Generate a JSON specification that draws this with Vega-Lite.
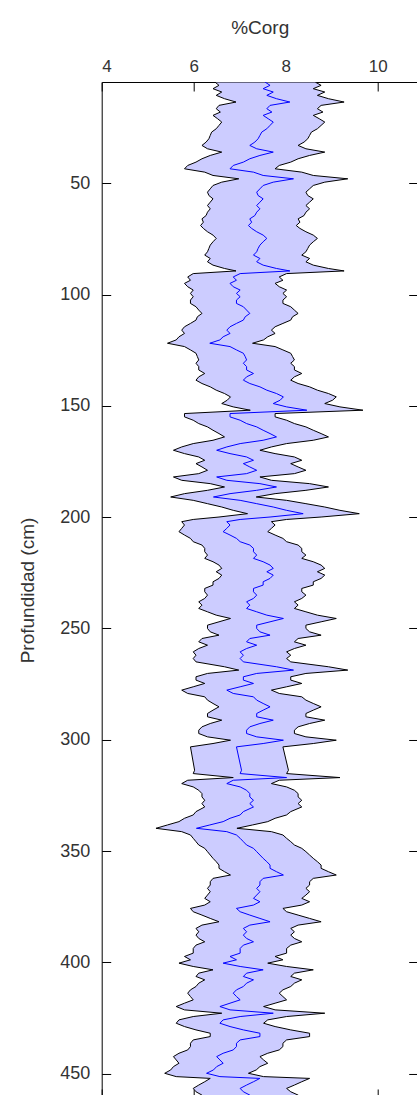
{
"$schema":"https://vega.github.io/schema/vega-lite/v6.json",
"width":316,"height":1016,
"autosize":{"type":"none"},
"padding":{"left":101.7,"top":82,"right":0,"bottom":0},
"background":"white",
"config":{
"view":{"stroke":"black","strokeWidth":1},
"axis":{"domain":false,"grid":false,"labelFont":"Liberation Sans","titleFont":"Liberation Sans","labelColor":"#333333","titleColor":"#333333","tickColor":"black","labelFontWeight":"normal","titleFontWeight":"normal","tickSize":-9,"tickWidth":1}
},
"data":{"values":[
{"d":4.4,"l":6.46,"m":7.55,"h":8.64},{"d":5.9,"l":6.55,"m":7.66,"h":8.77},{"d":7.4,"l":6.42,"m":7.51,"h":8.60},{"d":8.9,"l":6.61,"m":7.73,"h":8.85},{"d":10.4,"l":6.49,"m":7.59,"h":8.69},{"d":11.9,"l":6.67,"m":7.80,"h":8.93},{"d":13.4,"l":6.92,"m":8.09,"h":9.27},{"d":14.9,"l":6.55,"m":7.66,"h":8.77},{"d":16.4,"l":6.49,"m":7.59,"h":8.69},{"d":17.9,"l":6.58,"m":7.70,"h":8.81},
{"d":19.4,"l":6.42,"m":7.51,"h":8.60},{"d":20.9,"l":6.52,"m":7.62,"h":8.73},{"d":22.4,"l":6.61,"m":7.73,"h":8.85},{"d":23.9,"l":6.55,"m":7.66,"h":8.77},{"d":25.4,"l":6.49,"m":7.59,"h":8.69},{"d":26.9,"l":6.39,"m":7.48,"h":8.56},{"d":28.4,"l":6.36,"m":7.44,"h":8.52},{"d":29.9,"l":6.33,"m":7.40,"h":8.48},{"d":31.4,"l":6.27,"m":7.33,"h":8.40},{"d":32.9,"l":6.18,"m":7.22,"h":8.27},
{"d":34.4,"l":6.30,"m":7.37,"h":8.44},{"d":35.9,"l":6.61,"m":7.73,"h":8.85},{"d":37.4,"l":6.36,"m":7.44,"h":8.52},{"d":38.9,"l":6.18,"m":7.22,"h":8.27},{"d":40.4,"l":6.05,"m":7.08,"h":8.11},{"d":41.9,"l":5.87,"m":6.86,"h":7.86},{"d":43.4,"l":5.80,"m":6.79,"h":7.77},{"d":44.9,"l":6.24,"m":7.30,"h":8.35},{"d":46.4,"l":6.42,"m":7.51,"h":8.60},{"d":47.9,"l":6.98,"m":8.17,"h":9.35},
{"d":49.4,"l":6.61,"m":7.73,"h":8.85},{"d":50.9,"l":6.42,"m":7.51,"h":8.60},{"d":52.4,"l":6.36,"m":7.44,"h":8.52},{"d":53.9,"l":6.30,"m":7.37,"h":8.44},{"d":55.4,"l":6.33,"m":7.40,"h":8.48},{"d":56.9,"l":6.42,"m":7.51,"h":8.60},{"d":58.4,"l":6.36,"m":7.44,"h":8.52},{"d":59.9,"l":6.30,"m":7.37,"h":8.44},{"d":61.4,"l":6.36,"m":7.44,"h":8.52},{"d":62.9,"l":6.30,"m":7.37,"h":8.44},
{"d":64.4,"l":6.27,"m":7.33,"h":8.40},{"d":65.9,"l":6.18,"m":7.22,"h":8.27},{"d":67.4,"l":6.21,"m":7.26,"h":8.31},{"d":68.9,"l":6.15,"m":7.19,"h":8.23},{"d":70.2,"l":6.21,"m":7.26,"h":8.31},{"d":71.7,"l":6.30,"m":7.37,"h":8.44},{"d":73.2,"l":6.42,"m":7.51,"h":8.60},{"d":74.7,"l":6.49,"m":7.59,"h":8.69},{"d":76.2,"l":6.42,"m":7.51,"h":8.60},{"d":77.7,"l":6.36,"m":7.44,"h":8.52},
{"d":79.2,"l":6.33,"m":7.40,"h":8.48},{"d":80.7,"l":6.30,"m":7.37,"h":8.44},{"d":82.2,"l":6.24,"m":7.30,"h":8.35},{"d":83.7,"l":6.36,"m":7.44,"h":8.52},{"d":85.2,"l":6.30,"m":7.37,"h":8.44},{"d":86.7,"l":6.42,"m":7.51,"h":8.60},{"d":88.2,"l":6.67,"m":7.80,"h":8.93},{"d":89.3,"l":6.92,"m":8.09,"h":9.27},{"d":90.5,"l":5.99,"m":7.01,"h":8.02},{"d":92.0,"l":5.87,"m":6.86,"h":7.86},
{"d":93.5,"l":5.93,"m":6.93,"h":7.94},{"d":94.9,"l":5.80,"m":6.79,"h":7.77},{"d":96.4,"l":5.87,"m":6.86,"h":7.86},{"d":97.9,"l":5.99,"m":7.01,"h":8.02},{"d":99.4,"l":5.93,"m":6.93,"h":7.94},{"d":100.9,"l":5.99,"m":7.01,"h":8.02},{"d":102.4,"l":5.93,"m":6.93,"h":7.94},{"d":103.9,"l":5.93,"m":6.93,"h":7.94},{"d":105.4,"l":6.05,"m":7.08,"h":8.11},{"d":106.9,"l":6.11,"m":7.15,"h":8.19},
{"d":108.4,"l":6.18,"m":7.22,"h":8.27},{"d":109.9,"l":6.08,"m":7.12,"h":8.15},{"d":111.4,"l":6.05,"m":7.08,"h":8.11},{"d":112.9,"l":5.93,"m":6.93,"h":7.94},{"d":114.4,"l":5.80,"m":6.79,"h":7.77},{"d":115.9,"l":5.74,"m":6.72,"h":7.69},{"d":117.4,"l":5.80,"m":6.79,"h":7.77},{"d":118.9,"l":5.68,"m":6.64,"h":7.61},{"d":120.3,"l":5.62,"m":6.57,"h":7.52},{"d":121.8,"l":5.43,"m":6.35,"h":7.28},
{"d":123.3,"l":5.80,"m":6.79,"h":7.77},{"d":124.8,"l":5.93,"m":6.93,"h":7.94},{"d":126.3,"l":6.05,"m":7.08,"h":8.11},{"d":127.8,"l":6.08,"m":7.12,"h":8.15},{"d":129.3,"l":6.11,"m":7.15,"h":8.19},{"d":130.8,"l":6.05,"m":7.08,"h":8.11},{"d":132.3,"l":6.11,"m":7.15,"h":8.19},{"d":133.8,"l":6.11,"m":7.15,"h":8.19},{"d":135.4,"l":6.24,"m":7.30,"h":8.35},{"d":136.9,"l":6.11,"m":7.15,"h":8.19},
{"d":138.4,"l":6.05,"m":7.08,"h":8.11},{"d":139.9,"l":6.18,"m":7.22,"h":8.27},{"d":141.4,"l":6.36,"m":7.44,"h":8.52},{"d":142.9,"l":6.49,"m":7.59,"h":8.69},{"d":144.4,"l":6.67,"m":7.80,"h":8.93},{"d":145.9,"l":6.80,"m":7.95,"h":9.10},{"d":147.4,"l":6.73,"m":7.88,"h":9.02},{"d":148.9,"l":6.61,"m":7.73,"h":8.85},{"d":150.4,"l":6.86,"m":8.02,"h":9.18},{"d":151.9,"l":7.23,"m":8.46,"h":9.68},
{"d":153.4,"l":5.80,"m":6.79,"h":7.77},{"d":154.9,"l":5.80,"m":6.79,"h":7.77},{"d":156.4,"l":5.99,"m":7.01,"h":8.02},{"d":157.9,"l":6.11,"m":7.15,"h":8.19},{"d":159.4,"l":6.30,"m":7.37,"h":8.44},{"d":160.9,"l":6.42,"m":7.51,"h":8.60},{"d":162.4,"l":6.55,"m":7.66,"h":8.77},{"d":163.9,"l":6.67,"m":7.80,"h":8.93},{"d":165.4,"l":6.42,"m":7.51,"h":8.60},{"d":166.9,"l":5.99,"m":7.01,"h":8.02},
{"d":168.4,"l":5.74,"m":6.72,"h":7.69},{"d":169.9,"l":5.56,"m":6.50,"h":7.44},{"d":171.4,"l":5.80,"m":6.79,"h":7.77},{"d":172.9,"l":6.11,"m":7.15,"h":8.19},{"d":174.4,"l":6.24,"m":7.30,"h":8.35},{"d":175.9,"l":6.05,"m":7.08,"h":8.11},{"d":177.4,"l":6.18,"m":7.22,"h":8.27},{"d":178.9,"l":6.30,"m":7.37,"h":8.44},{"d":180.4,"l":6.11,"m":7.15,"h":8.19},{"d":181.9,"l":5.56,"m":6.50,"h":7.44},
{"d":183.4,"l":5.74,"m":6.72,"h":7.69},{"d":184.9,"l":6.36,"m":7.44,"h":8.52},{"d":186.4,"l":6.67,"m":7.80,"h":8.93},{"d":187.9,"l":6.30,"m":7.37,"h":8.44},{"d":189.4,"l":5.80,"m":6.79,"h":7.77},{"d":190.9,"l":5.50,"m":6.43,"h":7.36},{"d":192.4,"l":5.99,"m":7.01,"h":8.02},{"d":193.9,"l":6.30,"m":7.37,"h":8.44},{"d":195.4,"l":6.61,"m":7.73,"h":8.85},{"d":196.9,"l":6.86,"m":8.02,"h":9.18},
{"d":198.4,"l":7.17,"m":8.38,"h":9.60},{"d":199.9,"l":6.55,"m":7.66,"h":8.77},{"d":201.0,"l":5.99,"m":7.01,"h":8.02},{"d":202.0,"l":5.74,"m":6.72,"h":7.69},{"d":203.5,"l":5.80,"m":6.79,"h":7.77},{"d":205.0,"l":5.74,"m":6.72,"h":7.69},{"d":206.5,"l":5.68,"m":6.64,"h":7.61},{"d":208.0,"l":5.80,"m":6.79,"h":7.77},{"d":209.5,"l":5.93,"m":6.93,"h":7.94},{"d":211.0,"l":5.99,"m":7.01,"h":8.02},
{"d":212.5,"l":6.18,"m":7.22,"h":8.27},{"d":214.0,"l":6.24,"m":7.30,"h":8.35},{"d":215.5,"l":6.24,"m":7.30,"h":8.35},{"d":217.0,"l":6.30,"m":7.37,"h":8.44},{"d":218.5,"l":6.24,"m":7.30,"h":8.35},{"d":220.0,"l":6.42,"m":7.51,"h":8.60},{"d":221.5,"l":6.55,"m":7.66,"h":8.77},{"d":223.0,"l":6.61,"m":7.73,"h":8.85},{"d":224.5,"l":6.49,"m":7.59,"h":8.69},{"d":226.0,"l":6.61,"m":7.73,"h":8.85},
{"d":227.5,"l":6.55,"m":7.66,"h":8.77},{"d":229.0,"l":6.42,"m":7.51,"h":8.60},{"d":230.5,"l":6.42,"m":7.51,"h":8.60},{"d":232.0,"l":6.24,"m":7.30,"h":8.35},{"d":233.5,"l":6.24,"m":7.30,"h":8.35},{"d":235.0,"l":6.30,"m":7.37,"h":8.44},{"d":236.5,"l":6.24,"m":7.30,"h":8.35},{"d":238.0,"l":6.11,"m":7.15,"h":8.19},{"d":239.5,"l":6.18,"m":7.22,"h":8.27},{"d":241.0,"l":6.11,"m":7.15,"h":8.19},
{"d":242.5,"l":6.30,"m":7.37,"h":8.44},{"d":244.0,"l":6.49,"m":7.59,"h":8.69},{"d":245.5,"l":6.80,"m":7.95,"h":9.10},{"d":247.0,"l":6.55,"m":7.66,"h":8.77},{"d":248.5,"l":6.30,"m":7.37,"h":8.44},{"d":250.0,"l":6.30,"m":7.37,"h":8.44},{"d":251.5,"l":6.36,"m":7.44,"h":8.52},{"d":253.0,"l":6.55,"m":7.66,"h":8.77},{"d":254.5,"l":6.18,"m":7.22,"h":8.27},{"d":256.0,"l":6.11,"m":7.15,"h":8.19},
{"d":257.5,"l":6.30,"m":7.37,"h":8.44},{"d":259.0,"l":6.11,"m":7.15,"h":8.19},{"d":260.5,"l":5.99,"m":7.01,"h":8.02},{"d":262.0,"l":6.05,"m":7.08,"h":8.11},{"d":263.5,"l":5.99,"m":7.01,"h":8.02},{"d":265.0,"l":6.05,"m":7.08,"h":8.11},{"d":267.2,"l":6.67,"m":7.80,"h":8.93},{"d":268.7,"l":6.98,"m":8.17,"h":9.35},{"d":270.2,"l":6.30,"m":7.37,"h":8.44},{"d":271.7,"l":6.05,"m":7.08,"h":8.11},
{"d":273.2,"l":6.05,"m":7.08,"h":8.11},{"d":274.7,"l":6.24,"m":7.30,"h":8.35},{"d":276.2,"l":5.99,"m":7.01,"h":8.02},{"d":277.7,"l":5.74,"m":6.72,"h":7.69},{"d":279.2,"l":5.87,"m":6.86,"h":7.86},{"d":280.7,"l":6.24,"m":7.30,"h":8.35},{"d":282.2,"l":6.30,"m":7.37,"h":8.44},{"d":283.7,"l":6.42,"m":7.51,"h":8.60},{"d":285.2,"l":6.55,"m":7.66,"h":8.77},{"d":286.7,"l":6.42,"m":7.51,"h":8.60},
{"d":288.2,"l":6.30,"m":7.37,"h":8.44},{"d":289.7,"l":6.30,"m":7.37,"h":8.44},{"d":291.2,"l":6.61,"m":7.73,"h":8.85},{"d":292.7,"l":6.36,"m":7.44,"h":8.52},{"d":294.2,"l":6.18,"m":7.22,"h":8.27},{"d":295.7,"l":6.11,"m":7.15,"h":8.19},{"d":297.2,"l":6.11,"m":7.15,"h":8.19},{"d":298.7,"l":6.30,"m":7.37,"h":8.44},{"d":300.2,"l":6.80,"m":7.95,"h":9.10},{"d":301.7,"l":6.42,"m":7.51,"h":8.60},
{"d":303.2,"l":5.93,"m":6.93,"h":7.94},{"d":313.7,"l":6.02,"m":7.04,"h":8.06},{"d":315.2,"l":5.99,"m":7.01,"h":8.02},{"d":317.0,"l":6.86,"m":8.02,"h":9.18},{"d":318.2,"l":5.87,"m":6.86,"h":7.86},{"d":319.7,"l":5.74,"m":6.72,"h":7.69},{"d":321.2,"l":5.99,"m":7.01,"h":8.02},{"d":322.7,"l":6.11,"m":7.15,"h":8.19},{"d":324.2,"l":6.18,"m":7.22,"h":8.27},{"d":325.7,"l":6.18,"m":7.22,"h":8.27},
{"d":327.2,"l":6.24,"m":7.30,"h":8.35},{"d":328.7,"l":6.18,"m":7.22,"h":8.27},{"d":330.2,"l":6.24,"m":7.30,"h":8.35},{"d":332.3,"l":6.05,"m":7.08,"h":8.11},{"d":333.8,"l":5.99,"m":7.01,"h":8.02},{"d":335.3,"l":5.80,"m":6.79,"h":7.77},{"d":336.8,"l":5.68,"m":6.64,"h":7.61},{"d":338.3,"l":5.43,"m":6.35,"h":7.28},{"d":339.8,"l":5.18,"m":6.06,"h":6.94},{"d":341.3,"l":5.74,"m":6.72,"h":7.69},
{"d":342.8,"l":5.93,"m":6.93,"h":7.94},{"d":344.3,"l":5.99,"m":7.01,"h":8.02},{"d":345.8,"l":6.05,"m":7.08,"h":8.11},{"d":347.3,"l":6.11,"m":7.15,"h":8.19},{"d":348.8,"l":6.24,"m":7.30,"h":8.35},{"d":350.3,"l":6.30,"m":7.37,"h":8.44},{"d":351.8,"l":6.36,"m":7.44,"h":8.52},{"d":353.3,"l":6.42,"m":7.51,"h":8.60},{"d":354.8,"l":6.49,"m":7.59,"h":8.69},{"d":356.3,"l":6.55,"m":7.66,"h":8.77},
{"d":357.8,"l":6.55,"m":7.66,"h":8.77},{"d":359.3,"l":6.67,"m":7.80,"h":8.93},{"d":360.8,"l":6.80,"m":7.95,"h":9.10},{"d":362.3,"l":6.42,"m":7.51,"h":8.60},{"d":363.8,"l":6.36,"m":7.44,"h":8.52},{"d":365.3,"l":6.36,"m":7.44,"h":8.52},{"d":366.8,"l":6.30,"m":7.37,"h":8.44},{"d":368.3,"l":6.36,"m":7.44,"h":8.52},{"d":369.8,"l":6.30,"m":7.37,"h":8.44},{"d":371.3,"l":6.24,"m":7.30,"h":8.35},
{"d":372.8,"l":6.36,"m":7.44,"h":8.52},{"d":374.3,"l":6.24,"m":7.30,"h":8.35},{"d":375.8,"l":5.93,"m":6.93,"h":7.94},{"d":377.3,"l":5.99,"m":7.01,"h":8.02},{"d":378.8,"l":6.18,"m":7.22,"h":8.27},{"d":380.3,"l":6.36,"m":7.44,"h":8.52},{"d":381.8,"l":6.55,"m":7.66,"h":8.77},{"d":383.3,"l":6.18,"m":7.22,"h":8.27},{"d":384.8,"l":6.05,"m":7.08,"h":8.11},{"d":386.3,"l":6.11,"m":7.15,"h":8.19},
{"d":387.8,"l":6.05,"m":7.08,"h":8.11},{"d":389.3,"l":6.11,"m":7.15,"h":8.19},{"d":390.8,"l":6.24,"m":7.30,"h":8.35},{"d":392.3,"l":6.05,"m":7.08,"h":8.11},{"d":393.8,"l":5.99,"m":7.01,"h":8.02},{"d":395.9,"l":5.99,"m":7.01,"h":8.02},{"d":397.4,"l":5.80,"m":6.79,"h":7.77},{"d":398.9,"l":5.93,"m":6.93,"h":7.94},{"d":400.4,"l":5.68,"m":6.64,"h":7.61},{"d":401.9,"l":5.99,"m":7.01,"h":8.02},
{"d":403.4,"l":6.42,"m":7.51,"h":8.60},{"d":404.9,"l":6.11,"m":7.15,"h":8.19},{"d":406.4,"l":6.05,"m":7.08,"h":8.11},{"d":407.9,"l":6.24,"m":7.30,"h":8.35},{"d":409.4,"l":6.11,"m":7.15,"h":8.19},{"d":410.9,"l":6.05,"m":7.08,"h":8.11},{"d":412.4,"l":5.93,"m":6.93,"h":7.94},{"d":413.9,"l":5.87,"m":6.86,"h":7.86},{"d":415.4,"l":5.93,"m":6.93,"h":7.94},{"d":416.9,"l":5.99,"m":7.01,"h":8.02},
{"d":418.4,"l":5.80,"m":6.79,"h":7.77},{"d":419.9,"l":5.62,"m":6.57,"h":7.52},{"d":421.4,"l":5.80,"m":6.79,"h":7.77},{"d":422.9,"l":6.61,"m":7.73,"h":8.85},{"d":424.4,"l":5.99,"m":7.01,"h":8.02},{"d":425.9,"l":5.68,"m":6.64,"h":7.61},{"d":427.4,"l":5.62,"m":6.57,"h":7.52},{"d":428.9,"l":5.80,"m":6.79,"h":7.77},{"d":430.4,"l":6.05,"m":7.08,"h":8.11},{"d":431.9,"l":6.36,"m":7.44,"h":8.52},
{"d":433.4,"l":6.36,"m":7.44,"h":8.52},{"d":434.9,"l":5.99,"m":7.01,"h":8.02},{"d":436.4,"l":5.93,"m":6.93,"h":7.94},{"d":437.9,"l":5.93,"m":6.93,"h":7.94},{"d":439.4,"l":5.87,"m":6.86,"h":7.86},{"d":440.9,"l":5.68,"m":6.64,"h":7.61},{"d":442.4,"l":5.56,"m":6.50,"h":7.44},{"d":443.9,"l":5.62,"m":6.57,"h":7.52},{"d":445.4,"l":5.68,"m":6.64,"h":7.61},{"d":446.9,"l":5.56,"m":6.50,"h":7.44},
{"d":448.4,"l":5.50,"m":6.43,"h":7.36},{"d":449.9,"l":5.37,"m":6.28,"h":7.19},{"d":451.4,"l":5.62,"m":6.57,"h":7.52},{"d":452.2,"l":6.36,"m":7.44,"h":8.52},{"d":453.7,"l":6.24,"m":7.30,"h":8.35},{"d":455.2,"l":6.11,"m":7.15,"h":8.19},{"d":456.7,"l":5.99,"m":7.01,"h":8.02},{"d":458.2,"l":6.05,"m":7.08,"h":8.11},{"d":459.7,"l":6.18,"m":7.22,"h":8.27},{"d":461.0,"l":6.11,"m":7.15,"h":8.19}
]},
"resolve":{"axis":{"x":"independent","y":"independent"}},
"layer":[
{"mark":{"type":"area","orient":"horizontal","fill":"#ccccff","stroke":"black","strokeWidth":1,"clip":true},
"encoding":{
"y":{"field":"d","type":"quantitative","scale":{"domain":[4.4,461],"reverse":true,"nice":false,"zero":false},
"axis":{"orient":"left","values":[50,100,150,200,250,300,350,400,450],"title":"Profundidad (cm)","labelFontSize":18,"labelPadding":21,"titleFontSize":19,"titleX":-64,"titleAngle":-90,"titleBaseline":"bottom"}},
"x":{"field":"l","type":"quantitative","scale":{"domain":[4,10.87],"nice":false,"zero":false},
"axis":{"orient":"top","values":[4,6,8,10],"title":"%Corg","labelFontSize":17,"labelPadding":16,"titleFontSize":19,"titleX":158,"titleY":-49,"titleBaseline":"alphabetic"}},
"x2":{"field":"h"}
}},
{"mark":{"type":"line","color":"#0000ff","strokeWidth":1,"clip":true},
"encoding":{
"y":{"field":"d","type":"quantitative","axis":{"orient":"right","values":[50,100,150,200,250,300,350,400,450],"labels":false,"title":null}},
"x":{"field":"m","type":"quantitative","axis":{"orient":"bottom","values":[4,6,8,10],"labels":false,"title":null}},
"order":{"field":"d","type":"quantitative"}
}}
]
}
